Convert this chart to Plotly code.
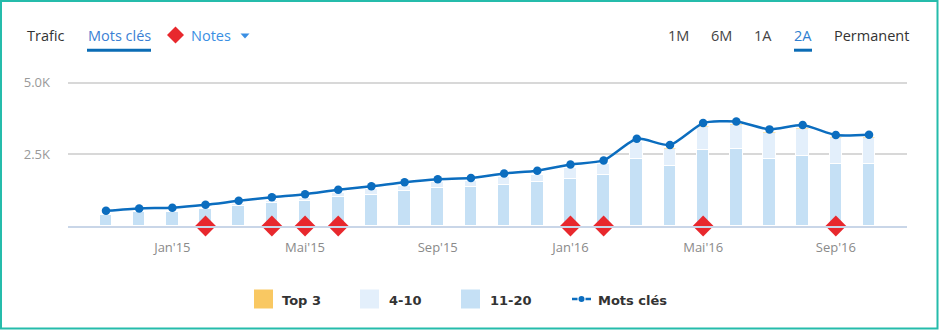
import plotly.graph_objects as go

# ---------------- data ----------------
months = ["Nov'14", "Déc'14", "Jan'15", "Fév'15", "Mar'15", "Avr'15", "Mai'15", "Juin'15",
          "Juil'15", "Aoû'15", "Sep'15", "Oct'15", "Nov'15", "Déc'15", "Jan'16", "Fév'16",
          "Mar'16", "Avr'16", "Mai'16", "Juin'16", "Juil'16", "Aoû'16", "Sep'16", "Oct'16"]

mots_cles = [530, 615, 640, 740, 880, 1005, 1110, 1265, 1385, 1530, 1635, 1675,
             1835, 1930, 2150, 2290, 3050, 2830, 3595, 3650, 3375, 3525, 3175, 3185]

pos_11_20 = [400, 495, 505, 590, 715, 805, 880, 1020, 1100, 1240, 1320, 1360,
             1440, 1535, 1650, 1795, 2350, 2095, 2650, 2700, 2350, 2430, 2175, 2175]

pos_4_10 = [20, 20, 25, 30, 40, 80, 115, 120, 185, 165, 200, 220,
            280, 255, 375, 380, 580, 600, 815, 835, 905, 965, 895, 895]

top_3 = [0, 0, 0, 0, 0, 0, 0, 0, 0, 0, 0, 0,
         0, 0, 0, 0, 0, 25, 20, 30, 40, 40, 45, 45]

notes_months = ["Fév'15", "Avr'15", "Mai'15", "Juin'15", "Jan'16", "Fév'16", "Mai'16", "Sep'16"]
notes_values = [0, 0, 0, 0, 0, 0, 0, 0]

tick_months = ["Jan'15", "Mai'15", "Sep'15", "Jan'16", "Mai'16", "Sep'16"]
y_ticks = [2500, 5000]
y_tick_labels = ["2.5K", "5.0K"]

# ---------------- layout helpers ----------------
W, H = 939, 330
PL, PR, PT, PB = 68, 907, 80, 226


def fx(x):
    return (x - PL) / (PR - PL)


def fy(y):
    return (PB - y) / (PB - PT)


FONT = "Open Sans"
C_BAR_DARK = "#c5e0f5"
C_BAR_LIGHT = "#e3effb"
C_TOP3 = "#f9c862"
C_LINE = "#0b6dbf"
C_RED = "#e8282d"

fig = go.Figure()

fig.add_trace(go.Bar(x=months, y=pos_11_20, name="11-20", marker=dict(color=C_BAR_DARK, line=dict(color="white", width=1)),
                     width=0.38, showlegend=False, hoverinfo="skip"))
fig.add_trace(go.Bar(x=months, y=pos_4_10, name="4-10", marker=dict(color=C_BAR_LIGHT, line=dict(color="white", width=1)),
                     width=0.38, showlegend=False, hoverinfo="skip"))
fig.add_trace(go.Bar(x=months, y=top_3, name="Top 3", marker=dict(color=C_TOP3, line=dict(color="white", width=0.5)),
                     width=0.38, showlegend=False, hoverinfo="skip"))
fig.add_trace(go.Scatter(x=months, y=mots_cles, name="Mots clés", mode="lines+markers",
                         line=dict(color=C_LINE, width=2.5, shape="spline", smoothing=0.6),
                         marker=dict(color=C_LINE, size=8.5), showlegend=False, hoverinfo="skip"))
fig.add_trace(go.Scatter(x=notes_months, y=notes_values, name="Notes", mode="markers",
                         marker=dict(symbol="diamond", color=C_RED, size=16, line=dict(width=0)),
                         cliponaxis=False, showlegend=False, hoverinfo="skip"))

shapes = []
annotations = []

# outer teal frame
shapes.append(dict(type="rect", xref="paper", yref="paper", x0=fx(1), x1=fx(937.5), y0=fy(1), y1=fy(328.5),
                   line=dict(color="#25bcab", width=2), fillcolor="rgba(0,0,0,0)", layer="above"))

# header texts
def header(text, cx, color, size=14.5):
    annotations.append(dict(text=text, xref="paper", yref="paper", x=fx(cx), y=fy(35), xanchor="center",
                            yanchor="middle", showarrow=False, font=dict(family=FONT, size=size, color=color)))

header("Trafic", 46, "#333333")
header("Mots clés", 119, "#3b7fd4")
header("Notes", 211, "#3a8fe3")
header("1M", 678.5, "#444444")
header("6M", 721.5, "#444444")
header("1A", 763, "#444444")
header("2A", 803, "#2f7fd0")
header("Permanent", 871.5, "#333333")

# underlines
shapes.append(dict(type="rect", xref="paper", yref="paper", x0=fx(87), x1=fx(151), y0=fy(51.7), y1=fy(48.7),
                   fillcolor="#0b6cb5", line=dict(width=0)))
shapes.append(dict(type="rect", xref="paper", yref="paper", x0=fx(794), x1=fx(812), y0=fy(51.7), y1=fy(48.7),
                   fillcolor="#0b6cb5", line=dict(width=0)))

# header diamond
dcx, dcy, dr = 175.5, 35, 8.5
shapes.append(dict(type="path", xref="paper", yref="paper",
                   path=f"M {fx(dcx)},{fy(dcy - dr)} L {fx(dcx + dr)},{fy(dcy)} L {fx(dcx)},{fy(dcy + dr)} L {fx(dcx - dr)},{fy(dcy)} Z",
                   fillcolor=C_RED, line=dict(width=0)))
# dropdown triangle
shapes.append(dict(type="path", xref="paper", yref="paper",
                   path=f"M {fx(240.5)},{fy(33.5)} L {fx(249.5)},{fy(33.5)} L {fx(245)},{fy(38.5)} Z",
                   fillcolor="#3a8fe3", line=dict(width=0)))

# custom legend
LY = 299
def swatch(x0, color):
    shapes.append(dict(type="rect", xref="paper", yref="paper", x0=fx(x0), x1=fx(x0 + 19), y0=fy(LY + 9.5), y1=fy(LY - 9.5),
                       fillcolor=color, line=dict(width=0)))

def legtext(text, cx):
    annotations.append(dict(text=f"<b>{text}</b>", xref="paper", yref="paper", x=fx(cx), y=fy(LY + 1), xanchor="center",
                            yanchor="middle", showarrow=False, font=dict(family="DejaVu Sans", size=13, color="#333333")))

swatch(254, C_TOP3)
legtext("Top 3", 301)
swatch(360, C_BAR_LIGHT)
legtext("4-10", 405)
swatch(461, C_BAR_DARK)
legtext("11-20", 510.5)
shapes.append(dict(type="line", xref="paper", yref="paper", x0=fx(572), x1=fx(577.5), y0=fy(LY), y1=fy(LY),
                   line=dict(color=C_LINE, width=2.5)))
shapes.append(dict(type="line", xref="paper", yref="paper", x0=fx(585.5), x1=fx(591), y0=fy(LY), y1=fy(LY),
                   line=dict(color=C_LINE, width=2.5)))
shapes.append(dict(type="circle", xref="paper", yref="paper", x0=fx(578.5), x1=fx(584.5), y0=fy(LY + 3), y1=fy(LY - 3),
                   fillcolor=C_LINE, line=dict(width=0)))
legtext("Mots clés", 632)

fig.update_layout(
    width=W, height=H, autosize=False,
    margin=dict(l=PL, r=W - PR, t=PT, b=H - PB),
    paper_bgcolor="white", plot_bgcolor="white",
    barmode="stack", bargap=0,
    showlegend=False,
    shapes=shapes, annotations=annotations,
    xaxis=dict(type="category", categoryorder="array", categoryarray=months,
               range=[-1.1455, 24.145], tickmode="array", tickvals=tick_months, ticktext=tick_months,
               showgrid=False, showline=True, linecolor="#c9d6e8", linewidth=1.5, ticks="",
               ticklabelstandoff=9, tickfont=dict(family=FONT, size=13, color="#8a8a8a"), fixedrange=True),
    yaxis=dict(range=[0, 5100], tickmode="array", tickvals=y_ticks, ticktext=y_tick_labels,
               showgrid=True, gridcolor="#d8d8d8", gridwidth=1.5, zeroline=False, showline=False, ticks="",
               ticklabelstandoff=17, tickfont=dict(family=FONT, size=13, color="#999999"), fixedrange=True),
)

fig.write_html("out.html")
